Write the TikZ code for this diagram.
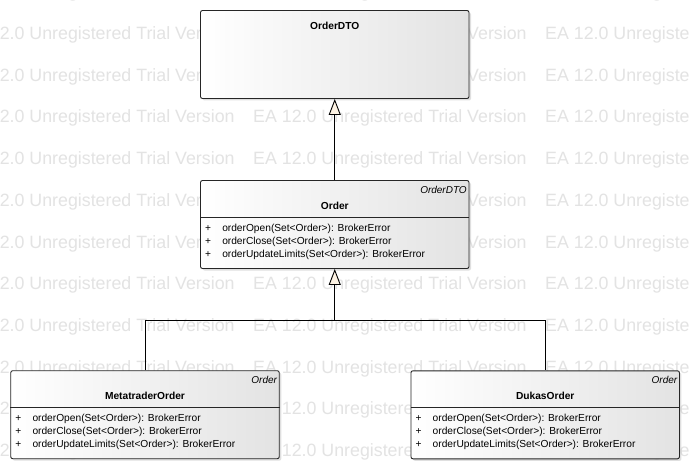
\documentclass[tikz,border=0pt]{standalone}
\usepackage{fontspec}
\setmainfont{Liberation Sans}
\usetikzlibrary{arrows.meta,shadows}
\definecolor{wm}{gray}{0.89}
\definecolor{cream}{RGB}{253,243,228}
\definecolor{boxline}{gray}{0.15}
\newcommand\classops[1]{%
  \draw[sep] ([yshift=-37pt]#1.north west) -- ([yshift=-37pt]#1.north east);
  \node[plus] (#1-p1) at ([xshift=8pt,yshift=-51pt]#1.north west) {+};
  \node[plus] (#1-p2) at ([xshift=8pt,yshift=-64pt]#1.north west) {+};
  \node[plus] (#1-p3) at ([xshift=8pt,yshift=-77pt]#1.north west) {+};
  \node[op] (#1-o1) at ([xshift=22pt,yshift=-51pt]#1.north west) {orderOpen(Set<Order>): BrokerError};
  \node[op] (#1-o2) at ([xshift=22pt,yshift=-64pt]#1.north west) {orderClose(Set<Order>): BrokerError};
  \node[op] (#1-o3) at ([xshift=22pt,yshift=-77pt]#1.north west) {orderUpdateLimits(Set<Order>): BrokerError};
}
\begin{document}
\begin{tikzpicture}[x=1pt,y=-1pt,
  umlbox/.style={draw=boxline, line width=0.9pt, rounded corners=2pt,
    left color=white, right color=black!11,
    minimum width=268.5pt, minimum height=88pt, inner sep=0pt,
    drop shadow={shadow xshift=2pt, shadow yshift=-2pt, opacity=0.35, fill=black!35}},
  wmtext/.style={text=wm, font=\fontsize{17.8}{20}\selectfont, anchor=base west, inner sep=0pt},
  title/.style={font=\fontsize{10.2}{12}\selectfont\bfseries, anchor=base, inner sep=0pt},
  stereo/.style={font=\fontsize{10}{12}\selectfont\itshape, anchor=base east, inner sep=0pt},
  op/.style={font=\fontsize{10.2}{12}\selectfont, anchor=base west, inner sep=0pt},
  plus/.style={font=\fontsize{10.2}{12}\selectfont, anchor=base, inner sep=0pt},
  sep/.style={draw=boxline, line width=0.8pt},
  conn/.style={draw=black, line width=0.9pt},
  gen/.style={conn, -{Triangle[length=16pt,width=12pt,fill=cream]}}
]
\fill[white] (0,0) rectangle (690,470);
\useasboundingbox (0,0) rectangle (690,470);
\begin{scope}
  \clip (0,0) rectangle (690,470);
  \foreach \k in {-1,...,10}
    \foreach \j in {0,1,2}
      \node[wmtext] (wm-\k-\j) at ({-39+292*\j},{39.6+41.7*\k}) {EA 12.0 Unregistered Trial Version};
\end{scope}

% classes
\node[umlbox] (dto) at (334.75,54.5) {};
\node[title] (dto-t) at ([yshift=-19pt]dto.north) {OrderDTO};

\node[umlbox] (order) at (334.75,224.5) {};
\node[stereo] (order-s) at ([xshift=-2.5pt,yshift=-13.2pt]order.north east) {OrderDTO};
\node[title] (order-t) at ([yshift=-29pt]order.north) {Order};
\classops{order}

\node[umlbox] (meta) at (145,414.7) {};
\node[stereo] (meta-s) at ([xshift=-2.5pt,yshift=-13.2pt]meta.north east) {Order};
\node[title] (meta-t) at ([yshift=-29pt]meta.north) {MetatraderOrder};
\classops{meta}

\node[umlbox] (dukas) at (545.2,414.8) {};
\node[stereo] (dukas-s) at ([xshift=-2.5pt,yshift=-13.2pt]dukas.north east) {Order};
\node[title] (dukas-t) at ([yshift=-29pt]dukas.north) {DukasOrder};
\classops{dukas}

% connectors
\coordinate (j) at (334.75,320.5);
\draw[gen] (order.north) -- (dto.south);
\draw[conn] (meta.north) |- (j) -| (dukas.north);
\draw[gen] (j) -- (order.south);
\end{tikzpicture}
\end{document}
